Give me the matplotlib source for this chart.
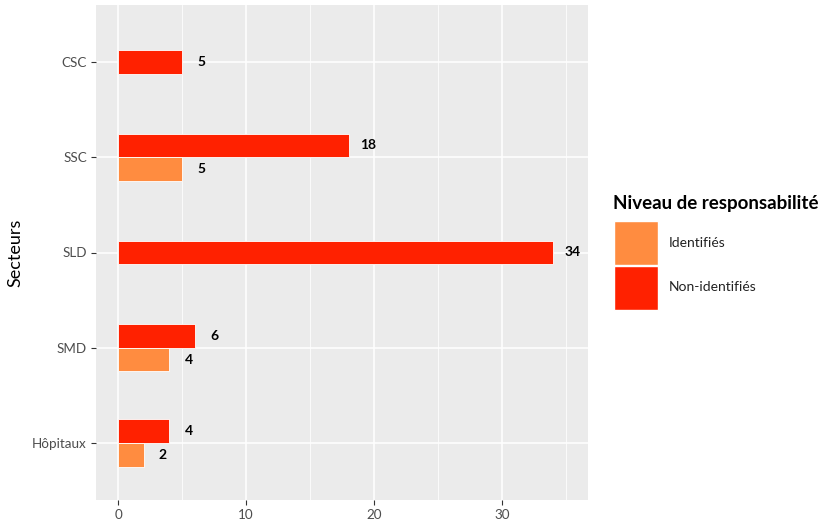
import numpy as np
import matplotlib
matplotlib.use("Agg")
import matplotlib.pyplot as plt
from matplotlib.patches import Patch

plt.rcParams['font.family'] = ['Lato', 'DejaVu Sans']

# data (bottom to top)
secteurs = ["Hôpitaux", "SMD", "SLD", "SSC", "CSC"]
identifies = [2, 4, None, 5, None]
non_identifies = [4, 6, 34, 18, 5]

col_id = "#FF8C40"
col_non = "#FF2100"
bar_h = 0.25

fig = plt.figure(figsize=(8.19, 5.23), dpi=100)
ax = fig.add_axes([96/819, 1-500/523, (588-96)/819, (500-5)/523])
ax.set_facecolor("#EBEBEB")

y = np.arange(1, len(secteurs) + 1)
for i, yy in enumerate(y):
    both = identifies[i] is not None and non_identifies[i] is not None
    if non_identifies[i] is not None:
        pos = yy + bar_h/2 if both else yy
        ax.barh(pos, non_identifies[i], height=bar_h, color=col_non,
                edgecolor="white", linewidth=0.6, zorder=3)
        ax.text(non_identifies[i] + 1.5, pos, str(non_identifies[i]),
                ha="center", va="center", fontsize=10, fontweight="bold",
                color="black", zorder=4)
    if identifies[i] is not None:
        pos = yy - bar_h/2 if both else yy
        ax.barh(pos, identifies[i], height=bar_h, color=col_id,
                edgecolor="white", linewidth=0.6, zorder=3)
        ax.text(identifies[i] + 1.5, pos, str(identifies[i]),
                ha="center", va="center", fontsize=10, fontweight="bold",
                color="black", zorder=4)

ax.set_xlim(-1.72, 36.7)
ax.set_ylim(0.4, len(secteurs) + 0.6)
ax.set_yticks(y)
ax.set_yticklabels(secteurs)
ax.set_xticks([0, 10, 20, 30])
ax.set_xticks([5, 15, 25, 35], minor=True)

ax.grid(True, which="major", color="white", linewidth=1.1, zorder=0)
ax.grid(True, which="minor", axis="x", color="white", linewidth=0.55, zorder=0)
ax.set_axisbelow(True)
for s in ax.spines.values():
    s.set_visible(False)
ax.tick_params(axis="both", which="major", length=3.5, width=0.8, color="#333333",
               labelsize=9.7, labelcolor="#4D4D4D", pad=3)
ax.tick_params(axis="both", which="minor", length=0)
ax.set_ylabel("Secteurs", fontsize=13, color="black", labelpad=6)

# legend: title as separate text, keys via fig.legend
fig.text(613/819, 1-203/523, "Niveau de responsabilité", fontsize=13.5,
         fontweight="bold", color="black", ha="left", va="center")
handles = [Patch(facecolor=col_id, edgecolor="white", label="Identifiés"),
           Patch(facecolor=col_non, edgecolor="white", label="Non-identifiés")]
leg = fig.legend(handles=handles, loc="upper left",
                 bbox_to_anchor=(614/819, 1-221/523),
                 frameon=False, fontsize=10,
                 handlelength=3.17, handleheight=4.5, labelspacing=0.05,
                 handletextpad=0.75, borderaxespad=0, borderpad=0)
for t in leg.get_texts():
    t.set_color("#222222")

fig.savefig("out.png", dpi=100)
